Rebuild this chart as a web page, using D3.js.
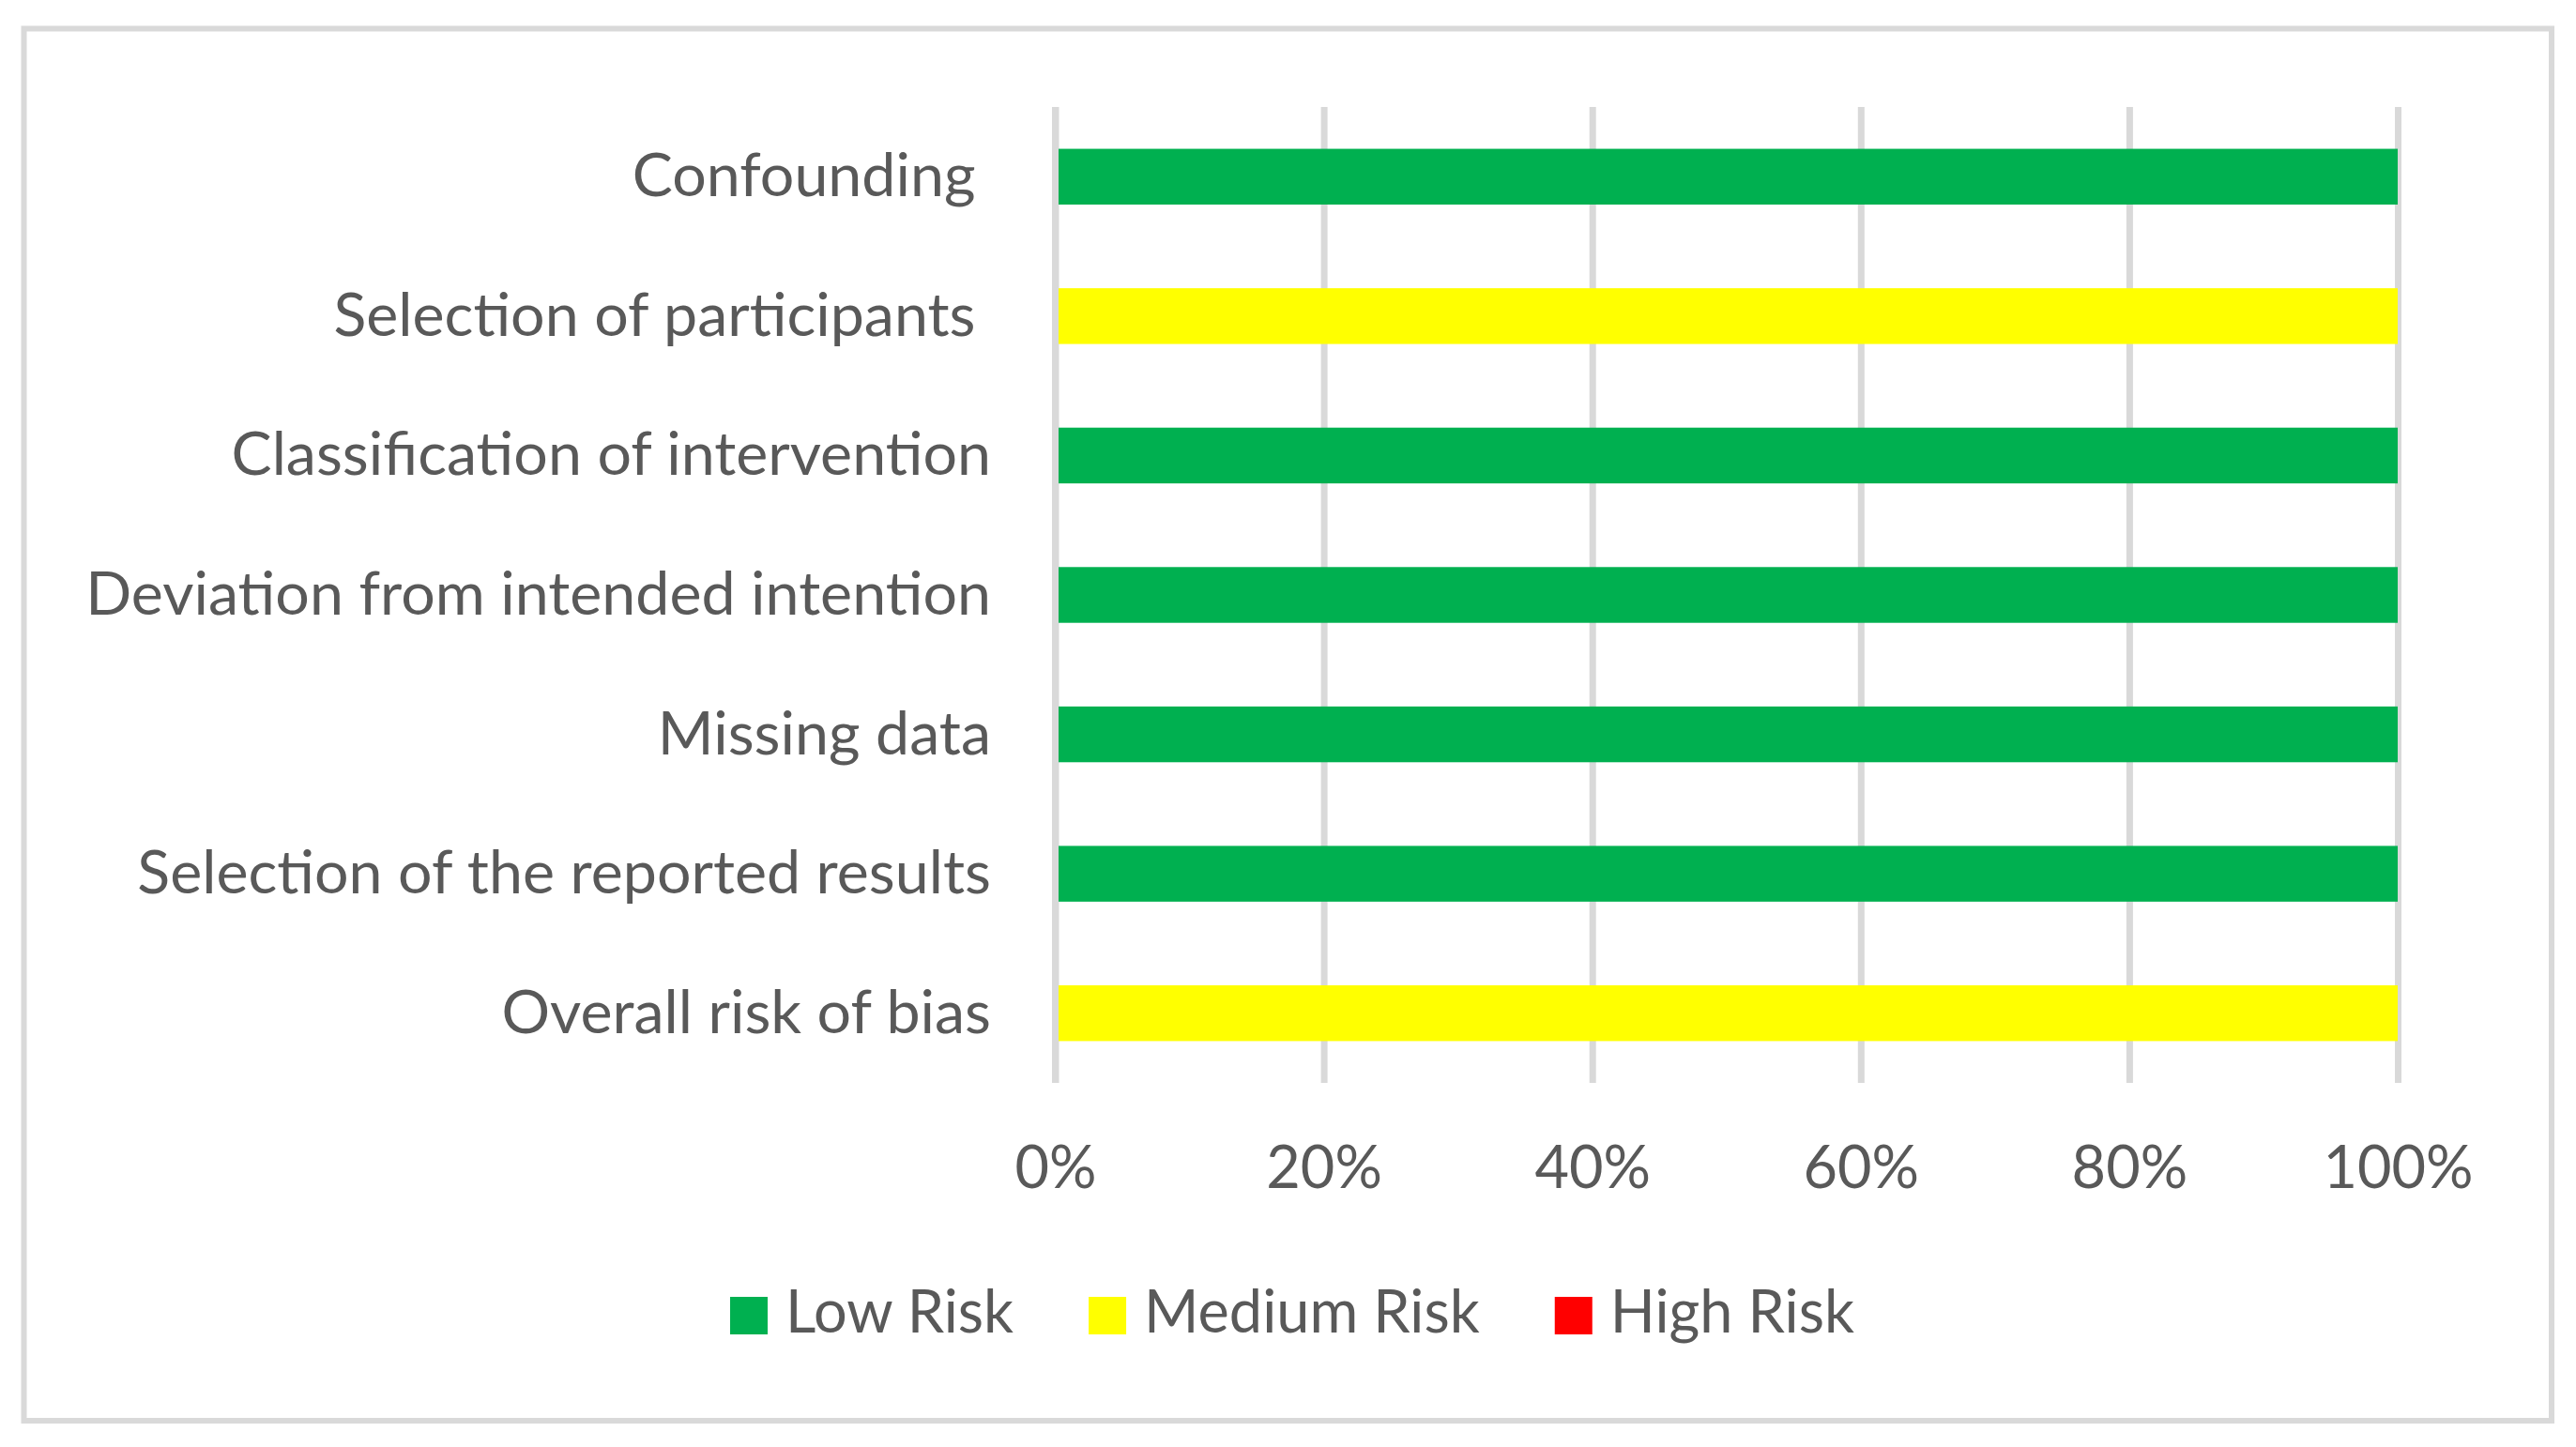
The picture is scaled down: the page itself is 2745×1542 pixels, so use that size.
<!DOCTYPE html>
<html>
<head>
<meta charset="utf-8">
<script src="https://cdn.jsdelivr.net/npm/d3@7"></script>
<style>
  html, body { margin: 0; padding: 0; background: #ffffff; }
  svg text { font-family: Lato, "Open Sans", sans-serif; fill: #595959; white-space: pre; }
</style>
</head>
<body>
<svg id="chart" width="2745" height="1542"></svg>
<script>
// ---- data ----
const categories = [
  "Confounding ",
  "Selection of participants ",
  "Classification of intervention",
  "Deviation from intended intention",
  "Missing data",
  "Selection of the reported results",
  "Overall risk of bias"
];
const seriesNames = ["Low Risk", "Medium Risk", "High Risk"];
const lowRisk    = [100, 0, 100, 100, 100, 100, 0];
const mediumRisk = [0, 100, 0, 0, 0, 0, 100];
const highRisk   = [0, 0, 0, 0, 0, 0, 0];
const seriesColors = ["#00B050", "#FFFF00", "#FF0000"];
const tickValues = [0, 0.2, 0.4, 0.6, 0.8, 1.0];

// ---- layout ----
const W = 2745, H = 1542;
const svg = d3.select("#chart");
const plot = { left: 1124.5, right: 2555, top: 114, bottom: 1154 };
const labelFont = 64.5;
const tickFont = 63;
const legendFont = 63;

svg.append("rect")
  .attr("x", 25.5).attr("y", 30.5)
  .attr("width", 2719 - 25.5).attr("height", 1514 - 30.5)
  .attr("fill", "#ffffff").attr("stroke", "#d9d9d9").attr("stroke-width", 6);

const rows = categories.map((c, i) => ({
  cat: c, "Low Risk": lowRisk[i], "Medium Risk": mediumRisk[i], "High Risk": highRisk[i]
}));
const stacked = d3.stack().keys(seriesNames)(rows.map(r => {
  const total = r["Low Risk"] + r["Medium Risk"] + r["High Risk"];
  return { cat: r.cat,
    "Low Risk": total ? r["Low Risk"] / total : 0,
    "Medium Risk": total ? r["Medium Risk"] / total : 0,
    "High Risk": total ? r["High Risk"] / total : 0 };
}));

const x = d3.scaleLinear().domain([0, 1]).range([plot.left, plot.right]);
const y = d3.scaleBand().domain(categories).range([plot.top, plot.bottom])
  .paddingInner(0.6).paddingOuter(0.3);
const color = d3.scaleOrdinal().domain(seriesNames).range(seriesColors);

// gridlines
const xAxis = d3.axisBottom(x).tickValues(tickValues)
  .tickSize(-(plot.bottom - plot.top)).tickFormat(d3.format(".0%")).tickPadding(0);
const gx = svg.append("g").attr("transform", `translate(0,${plot.bottom})`).call(xAxis);
gx.select(".domain").remove();
gx.selectAll(".tick line").attr("stroke", "#d9d9d9").attr("stroke-width", 7);
gx.selectAll(".tick text")
  .attr("y", 1266 - plot.bottom).attr("dy", null)
  .style("font-size", tickFont + "px").attr("fill", "#595959");

// bars
svg.append("g").selectAll("g").data(stacked).join("g")
  .attr("fill", d => color(d.key))
  .selectAll("rect").data(d => d).join("rect")
  .attr("x", d => x(d[0]))
  .attr("width", d => Math.max(0, x(d[1]) - x(d[0])))
  .attr("y", d => y(d.data.cat))
  .attr("height", y.bandwidth());

// vertical axis line on top
svg.append("line")
  .attr("x1", x(0)).attr("x2", x(0)).attr("y1", plot.top).attr("y2", plot.bottom)
  .attr("stroke", "#d9d9d9").attr("stroke-width", 7);

// category labels
svg.append("g").selectAll("text").data(categories).join("text")
  .attr("x", 1056)
  .attr("y", d => y(d) + y.bandwidth() / 2 + 21)
  .attr("text-anchor", "end")
  .style("font-size", labelFont + "px")
  .text(d => d);

// legend
const legend = svg.append("g");
const items = legend.selectAll("g").data(seriesNames).join("g");
items.append("rect").attr("width", 40).attr("height", 40).attr("y", 1382)
  .attr("fill", d => color(d));
items.append("text").attr("x", 59).attr("y", 1420)
  .style("font-size", legendFont + "px").text(d => d);
let widths = [];
items.each(function() { widths.push(59 + d3.select(this).select("text").node().getComputedTextLength()); });
const gap = 80;
const total = d3.sum(widths) + gap * (widths.length - 1);
let cx = 1377 - total / 2;
items.each(function(d, i) {
  d3.select(this).attr("transform", `translate(${cx},0)`);
  cx += widths[i] + gap;
});
</script>
</body>
</html>
